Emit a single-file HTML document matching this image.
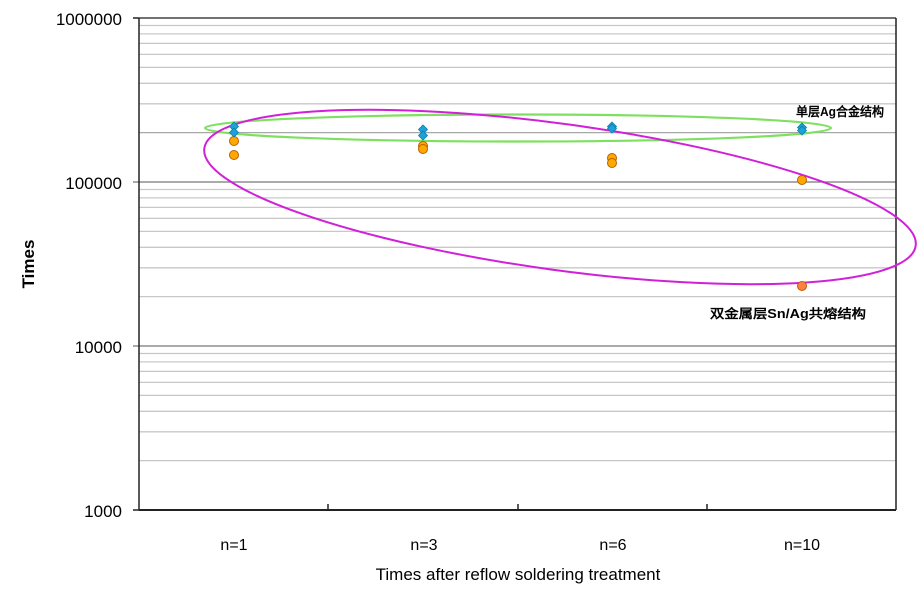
<!DOCTYPE html>
<html><head><meta charset="utf-8"><style>
html,body{margin:0;padding:0;background:#fff;width:920px;height:600px;overflow:hidden}
svg{display:block}
text{font-family:"Liberation Sans","DejaVu Sans",sans-serif;fill:#000}
</style></head><body>
<svg width="920" height="600" viewBox="0 0 920 600">
<g stroke="#c8c8c8" stroke-width="1.3">
<line x1="139" x2="896" y1="25.5" y2="25.5"/><line x1="139" x2="896" y1="33.9" y2="33.9"/><line x1="139" x2="896" y1="43.4" y2="43.4"/><line x1="139" x2="896" y1="54.4" y2="54.4"/><line x1="139" x2="896" y1="67.4" y2="67.4"/><line x1="139" x2="896" y1="83.3" y2="83.3"/><line x1="139" x2="896" y1="103.8" y2="103.8"/><line x1="139" x2="896" y1="132.6" y2="132.6" stroke="#a8a8a8"/>
<line x1="139" x2="896" y1="189.5" y2="189.5"/><line x1="139" x2="896" y1="197.9" y2="197.9"/><line x1="139" x2="896" y1="207.4" y2="207.4"/><line x1="139" x2="896" y1="218.4" y2="218.4"/><line x1="139" x2="896" y1="231.4" y2="231.4"/><line x1="139" x2="896" y1="247.3" y2="247.3"/><line x1="139" x2="896" y1="267.8" y2="267.8"/><line x1="139" x2="896" y1="296.6" y2="296.6"/>
<line x1="139" x2="896" y1="353.5" y2="353.5"/><line x1="139" x2="896" y1="361.9" y2="361.9"/><line x1="139" x2="896" y1="371.4" y2="371.4"/><line x1="139" x2="896" y1="382.4" y2="382.4"/><line x1="139" x2="896" y1="395.4" y2="395.4"/><line x1="139" x2="896" y1="411.3" y2="411.3"/><line x1="139" x2="896" y1="431.8" y2="431.8"/><line x1="139" x2="896" y1="460.6" y2="460.6"/>
</g>
<g stroke="#777" stroke-width="1.3">
<line x1="133" x2="896" y1="182" y2="182"/><line x1="133" x2="896" y1="346" y2="346"/>
</g>
<g stroke="#222" stroke-width="1.5" fill="none">
<line x1="139" y1="18" x2="896" y2="18" stroke="#444"/>
<line x1="139" y1="18" x2="139" y2="510"/>
<line x1="896" y1="18" x2="896" y2="510"/>
<line x1="139" y1="510" x2="896" y2="510" stroke-width="2"/>
<line x1="133" y1="18" x2="139" y2="18"/><line x1="133" y1="510" x2="139" y2="510"/>
<line x1="328" y1="504" x2="328" y2="510"/><line x1="518" y1="504" x2="518" y2="510"/><line x1="707" y1="504" x2="707" y2="510"/>
</g>
<g font-size="17" text-anchor="end">
<text x="122" y="25">1000000</text>
<text x="122" y="189">100000</text>
<text x="122" y="353">10000</text>
<text x="122" y="517">1000</text>
</g>
<g font-size="16" text-anchor="middle">
<text x="234" y="550">n=1</text><text x="424" y="550">n=3</text><text x="613" y="550">n=6</text><text x="802" y="550">n=10</text>
<text x="518" y="580" font-size="17">Times after reflow soldering treatment</text>
<text transform="translate(34,264) rotate(-90)" font-size="17" font-weight="bold">Times</text>
</g>
<ellipse cx="518" cy="128" rx="313" ry="13.5" fill="none" stroke="#7ee060" stroke-width="2.2"/>
<ellipse cx="560" cy="197" rx="359" ry="73" transform="rotate(7.8 560 197)" fill="none" stroke="#d020d8" stroke-width="2"/>
<g fill="#ffa800" stroke="#b86000" stroke-width="1">
<circle cx="234" cy="141" r="4.5"/><circle cx="234" cy="155" r="4.5"/>
<circle cx="423" cy="146" r="4.5"/><circle cx="423" cy="149" r="4.5"/>
<circle cx="612" cy="158" r="4.5"/><circle cx="612" cy="163" r="4.5"/>
<circle cx="802" cy="180" r="4.5"/><circle cx="802" cy="286" r="4.5" fill="#ff8040"/>
</g>
<g fill="#20a0d8" stroke="#0880b0" stroke-width="0.8">
<path d="M234 122l4.5 4.5-4.5 4.5-4.5-4.5z"/><path d="M234 128l4.5 4.5-4.5 4.5-4.5-4.5z"/>
<path d="M423 125l4.5 4.5-4.5 4.5-4.5-4.5z"/><path d="M423 131l4.5 4.5-4.5 4.5-4.5-4.5z"/>
<path d="M612 122l4.5 4.5-4.5 4.5-4.5-4.5z"/><path d="M612 124l4.5 4.5-4.5 4.5-4.5-4.5z"/>
<path d="M802 123l4.5 4.5-4.5 4.5-4.5-4.5z"/><path d="M802 126l4.5 4.5-4.5 4.5-4.5-4.5z"/>
</g>
<g font-size="12.5" font-weight="bold" style='font-family:"Liberation Serif","Noto Serif CJK SC",serif'>
<text x="796" y="116" textLength="88" lengthAdjust="spacingAndGlyphs">单层Ag合金结构</text>
<text x="710" y="318" textLength="156" lengthAdjust="spacingAndGlyphs">双金属层Sn/Ag共熔结构</text>
</g>
</svg>
</body></html>
